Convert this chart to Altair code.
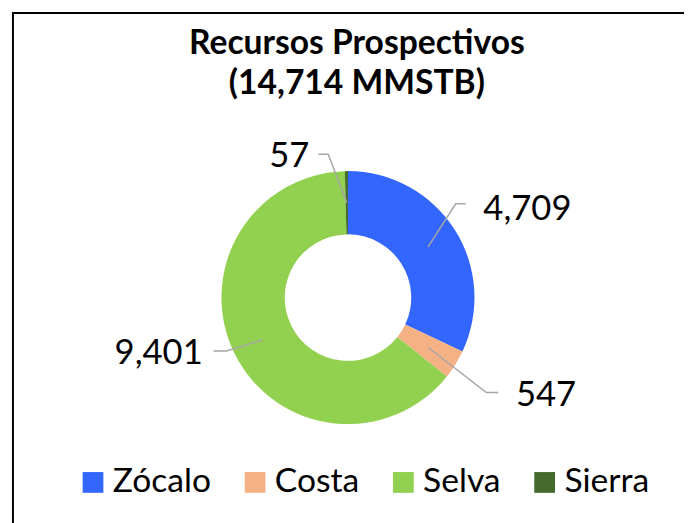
import altair as alt
import numpy as np
import pandas as pd

# ---- data ----
regions = ["Zócalo", "Costa", "Selva", "Sierra"]
values = [4709, 547, 9401, 57]
value_labels = ["4,709", "547", "9,401", "57"]
colors = ["#3366FF", "#F4B183", "#92D050", "#446A2C"]
title_lines = ["Recursos Prospectivos", "(14,714 MMSTB)"]

# ---- layout (pixels, relative to the donut centre) ----
W, H = 660, 336
OUTER, INNER = 128, 64
MID_R = (OUTER + INNER) / 2
FONT = "Lato"
label_layout = {
    "Zócalo": dict(elbow=(109, -95), end=(119, -95), text=(137, -79), align="left"),
    "Costa": dict(elbow=(140, 96), end=(152, 96), text=(170, 110), align="left"),
    "Selva": dict(elbow=(-123, 54), end=(-136, 54), text=(-147, 67), align="right"),
    "Sierra": dict(elbow=(-20, -145), end=(-30, -145), text=(-39, -132), align="right"),
}

df = pd.DataFrame({"region": regions, "value": values, "label": value_labels,
                   "order": list(range(len(regions)))})
total = df["value"].sum()
mid_angle = (df["value"].cumsum() - df["value"] / 2) / total * 2 * np.pi
df["sx"] = MID_R * np.sin(mid_angle)
df["sy"] = -MID_R * np.cos(mid_angle)

line_rows, text_rows = [], []
for _, r in df.iterrows():
    lay = label_layout[r["region"]]
    pts = [(r["sx"], r["sy"]), lay["elbow"], lay["end"]]
    for i, (px, py) in enumerate(pts):
        line_rows.append({"region": r["region"], "step": i, "px": px, "py": py})
    text_rows.append({"region": r["region"], "label": r["label"],
                      "tx": lay["text"][0], "ty": lay["text"][1], "align": lay["align"]})
lines_df = pd.DataFrame(line_rows)
text_df = pd.DataFrame(text_rows)

xs = alt.Scale(domain=[-W / 2, W / 2], nice=False, zero=False)
ys = alt.Scale(domain=[-H / 2, H / 2], nice=False, zero=False, reverse=True)

arc = alt.Chart(df).mark_arc(outerRadius=OUTER, innerRadius=INNER).encode(
    theta=alt.Theta("value:Q", stack=True),
    order=alt.Order("order:Q"),
    color=alt.Color(
        "region:N",
        scale=alt.Scale(domain=regions, range=colors),
        legend=alt.Legend(
            title=None, orient="none", direction="horizontal", columns=4,
            legendX=55, legendY=338,
            symbolType="square", symbolSize=441, symbolStrokeWidth=0,
            labelFont=FONT, labelFontSize=34, labelColor="black",
            labelOffset=3, columnPadding=27,
        ),
    ),
)

leaders = alt.Chart(lines_df).mark_line(color="#A6A6A6", strokeWidth=1.5).encode(
    x=alt.X("px:Q", scale=xs, axis=None),
    y=alt.Y("py:Q", scale=ys, axis=None),
    detail="region:N",
    order="step:Q",
)

def label_layer(align):
    return alt.Chart(text_df).transform_filter(
        alt.datum.align == align
    ).mark_text(align=align, baseline="alphabetic", font=FONT, fontSize=35,
                color="black").encode(
        x=alt.X("tx:Q", scale=xs, axis=None),
        y=alt.Y("ty:Q", scale=ys, axis=None),
        text="label:N",
    )

title = alt.Chart(pd.DataFrame({"t": ["\n".join(title_lines)]})).mark_text(
    align="center", baseline="alphabetic", font=FONT, fontSize=34,
    fontWeight="bold", color="black", lineBreak="\n", lineHeight=40,
).encode(x=alt.value(339), y=alt.value(-78), text="t:N")

frame = alt.Chart(pd.DataFrame({"k": [0]})).mark_rect(
    fillOpacity=0, stroke="black", strokeWidth=2
).encode(x=alt.value(-9), x2=alt.value(690), y=alt.value(-120), y2=alt.value(420))

chart = alt.layer(frame, arc, leaders, label_layer("left"), label_layer("right"), title).properties(
    width=W, height=H,
    padding={"left": 14, "top": 122, "right": 10, "bottom": 57},
    autosize=alt.AutoSizeParams(type="none"),
    background="white",
).configure_view(stroke=None)

chart.save("out.html", embed_options={"renderer": "svg", "actions": False})
